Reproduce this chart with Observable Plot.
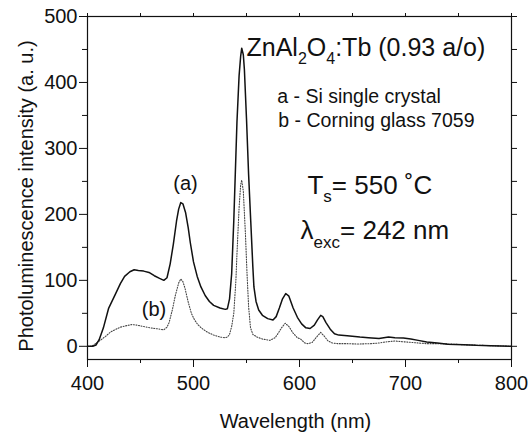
<!DOCTYPE html>
<html><head><meta charset="utf-8">
<script src="https://cdn.jsdelivr.net/npm/d3@7"></script>
<script src="https://cdn.jsdelivr.net/npm/@observablehq/plot@0.6"></script>
<style>body{margin:0;background:#fff}</style>
</head><body><div id="chart"></div>
<script>
// (a) Si single crystal — solid line
const wavelengthA = [400,405,408,411,415,420,426,431,435,440,444,448,453,458,463,468,472,475,478,481,484,486,488,490,492.5,495,497,500,503.5,507,511,515,519,525,530,532,534,536,538,540,541,543,544.5,545.5,547,548,550,552,554,556,557,559,561.5,565,570,575,578,581,584,587,590,594,598,602,606,610,614,617,620,622,625,629,633,637,645,657,665,675,684,690,698,705,712,720,730,740,755,767,780,790,800];
const intensityA  = [0,0,2,10,28,58,78,95,106,113,116,115,114,112,107,103,100,104,125,155,190,208,218,216,203,180,157,128,106,90,77,68,62,58,56,57,72,110,190,290,340,410,440,452,442,420,345,260,190,120,90,68,55,47,42,40,45,58,72,80,76,58,44,34,28,27,32,40,47,45,36,26,19,17,16,14,13,12,14,13,12.5,11,9,6.5,5,3,2.5,1.5,1,0.5,0];
// (b) Corning glass 7059 — dotted line
const wavelengthB = [400,403,406,409,412,417,422,427,431,436,442,447,453,459,466,472,475,477,480,483,486,488,490,492,495,498,501,504,508,513,519,525,530,532,534,536,538,540,541,543,544.5,545.5,547,549,550.5,552,553.8,556,560,565,572,577,580,583,586.5,590,594,598,601,605,608,612,616,620,623,627,631,636,645,655,667,675,683,690,697,705,712,720,730,742,760,780,800];
const intensityB  = [0,0,2,6,9,15,22,26,29,31,33,32,30,28,26.5,25,29,36,55,78,96,102,98,88,67,50,40,33,27,21.5,17,14,13,14,18,30,50,100,140,210,245,252,235,170,110,60,28,18,14,11,9,13,20,28,35,30,20,13,11,5,4,6,14,21,16,8,5,4,4,3.5,4,5,7,8,7,6,5,4,4,3.5,2,1,0];

const xTicks = [400,500,600,700,800];
const xMinorTicks = [450,550,650,750];
const xEdgeTicks = [400,450,500,550,600,650,700,750,800];
const yTicks = [0,100,200,300,400,500];
const yMinorTicks = [50,150,250,350,450];
const yEdgeTicks = [0,50,100,150,200,250,300,350,400,450,500];

const xLabel = "Wavelength (nm)";
const yLabel = "Photoluminescence intensity (a. u.)";
const titleParts = [["ZnAl",0],["2",1],["O",0],["4",1],[":Tb (0.93 a/o)",0]];
const legendA = "a - Si single crystal";
const legendB = "b - Corning glass 7059";
const tsParts = [["T",0],["s",1],["= 550 \u02DAC",0]];
const lamParts = [["\u03BB",0],["exc",1],["= 242 nm",0]];
const curveLabelA = "(a)";
const curveLabelB = "(b)";

const plain = p => p.map(d => d[0]).join("");
const dataA = wavelengthA.map((w, i) => ({w, v: intensityA[i]}));
const dataB = wavelengthB.map((w, i) => ({w, v: intensityB[i]}));
const ink = "#111";
const font = '"Liberation Sans", Arial, Helvetica, sans-serif';

const chart = Plot.plot({
  width: 529, height: 433,
  marginLeft: 87, marginRight: 18, marginTop: 16, marginBottom: 74,
  x: {domain: [400, 800]},
  y: {domain: [-20, 500]},
  style: {fontFamily: font, fontSize: "20px", color: ink, background: "white"},
  marks: [
    Plot.axisX({ticks: xTicks, tickSize: 8, tickPadding: 8, tickFormat: d => String(d), label: null, fontSize: 20}),
    Plot.axisX({ticks: xMinorTicks, tickSize: 4, tickFormat: () => "", label: null}),
    Plot.axisX({anchor: "top", ticks: xEdgeTicks, tickSize: 4, tickFormat: () => "", label: null}),
    Plot.axisY({ticks: yTicks, tickSize: 8, tickPadding: 2, tickFormat: d => String(d), label: null, fontSize: 20}),
    Plot.axisY({ticks: yMinorTicks, tickSize: 5, tickFormat: () => "", label: null}),
    Plot.axisY({anchor: "right", ticks: yEdgeTicks, tickSize: 5, tickFormat: () => "", label: null}),
    Plot.frame({stroke: ink, strokeWidth: 1.2}),
    Plot.line(dataB, {x: "w", y: "v", stroke: "#444", strokeWidth: 1.1, strokeDasharray: "1,1.6"}),
    Plot.line(dataA, {x: "w", y: "v", stroke: ink, strokeWidth: 1.5}),
    Plot.text([xLabel], {frameAnchor: "bottom", textAnchor: "middle", lineAnchor: "middle", dx: -4, dy: 61.6, fontSize: 20, fill: ink}),
    Plot.text([yLabel], {frameAnchor: "left", textAnchor: "middle", lineAnchor: "middle", rotate: -90, dx: -61.4, dy: 8, fontSize: 20, fill: ink}),
    Plot.text([plain(titleParts)], {x: 550, y: 452.5, textAnchor: "start", fontSize: 25, fill: ink}),
    Plot.text([legendA], {x: 579, y: 379, textAnchor: "start", fontSize: 19.5, fill: ink}),
    Plot.text([legendB], {x: 580, y: 342, textAnchor: "start", fontSize: 19.5, fill: ink}),
    Plot.text([plain(tsParts)], {x: 607.5, y: 244, textAnchor: "start", fontSize: 26, fill: ink}),
    Plot.text([plain(lamParts)], {x: 601, y: 176, textAnchor: "start", fontSize: 26, fill: ink}),
    Plot.text([curveLabelA], {x: 492.5, y: 246, fontSize: 20, fill: ink}),
    Plot.text([curveLabelB], {x: 462.7, y: 55, fontSize: 20, fill: ink})
  ]
});

function richify(svg, parts, subSize, shift) {
  const str = plain(parts);
  d3.select(svg).selectAll("text").filter(function () { return this.textContent === str; }).each(function () {
    const t = d3.select(this);
    t.text(null);
    let prevSub = false;
    parts.forEach(([s, sub]) => {
      const ts = t.append("tspan").text(s);
      if (sub && !prevSub) ts.attr("dy", shift).attr("font-size", subSize);
      else if (!sub && prevSub) ts.attr("dy", -shift);
      prevSub = !!sub;
    });
  });
}
richify(chart, titleParts, 16, 8);
richify(chart, tsParts, 17, 8);
richify(chart, lamParts, 17, 9);

document.getElementById("chart").appendChild(chart);
</script>
</body></html>
